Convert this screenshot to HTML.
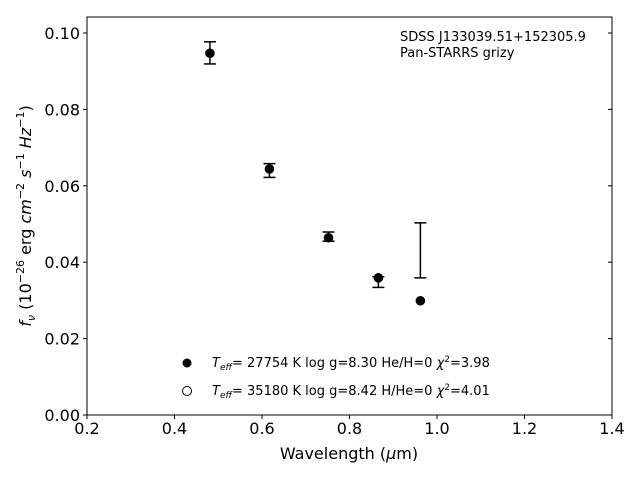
<!DOCTYPE html>
<html><head><meta charset="utf-8"><style>
body{margin:0;background:#fff;}
svg{display:block;font-family:"DejaVu Sans","Liberation Sans",sans-serif;}
</style></head><body>
<svg id="chart" width="640" height="480">
<rect x="87" y="17" width="525" height="398" fill="none" stroke="#000" stroke-width="1"/>
<g id="ticks"></g><g id="marks"></g>
<text x="349" y="459" font-size="16" text-anchor="middle">Wavelength (<tspan font-style="italic">μ</tspan>m)</text>
<text transform="translate(31,216) rotate(-90)" font-size="16" text-anchor="middle"><tspan font-style="italic">f</tspan><tspan font-size="11" dy="4" font-style="italic">ν</tspan><tspan dy="-4"> (10</tspan><tspan font-size="11" dy="-7">−26</tspan><tspan dy="7"> erg </tspan><tspan font-style="italic">cm</tspan><tspan font-size="11" dy="-7">−2</tspan><tspan dy="7"> </tspan><tspan font-style="italic">s</tspan><tspan font-size="11" dy="-7">−1</tspan><tspan dy="7"> </tspan><tspan font-style="italic">Hz</tspan><tspan font-size="11" dy="-7">−1</tspan><tspan dy="7">)</tspan></text>
<text x="400" y="41" font-size="13">SDSS J133039.51+152305.9</text>
<text x="400" y="57" font-size="13">Pan-STARRS grizy</text>
<g>
<circle cx="187" cy="363" r="4.5" fill="#000"/>
<text x="212" y="367" font-size="13"><tspan font-style="italic">T</tspan><tspan font-size="9" dy="3" font-style="italic">eff</tspan><tspan dy="-3">= 27754 K  log g=8.30  He/H=0  </tspan><tspan font-style="italic">χ</tspan><tspan font-size="9" dy="-5">2</tspan><tspan dy="5">=3.98</tspan></text>
<circle cx="187" cy="391" r="4.5" fill="#fff" stroke="#000" stroke-width="1"/>
<text x="212" y="395" font-size="13"><tspan font-style="italic">T</tspan><tspan font-size="9" dy="3" font-style="italic">eff</tspan><tspan dy="-3">= 35180 K  log g=8.42  H/He=0  </tspan><tspan font-style="italic">χ</tspan><tspan font-size="9" dy="-5">2</tspan><tspan dy="5">=4.01</tspan></text>
</g>
</svg>
<script>
const wavelengths=[0.481,0.617,0.752,0.866,0.962];
const obsFlux=[0.0948,0.0640,0.0467,0.0348,0.0431];
const obsErr=[0.0029,0.0018,0.0012,0.0014,0.0072];
const modelFlux=[0.0947,0.0644,0.0464,0.0359,0.0299];
const xTicks=[0.2,0.4,0.6,0.8,1.0,1.2,1.4];
const yTicks=[0.00,0.02,0.04,0.06,0.08,0.10];
const X=v=>87+(v-0.2)*437.5;
const Y=v=>415-v*3820;
const NS="http://www.w3.org/2000/svg";
function mk(tag,attrs,parent){const e=document.createElementNS(NS,tag);for(const k in attrs)e.setAttribute(k,attrs[k]);parent.appendChild(e);return e;}
const tg=document.getElementById('ticks'),mg=document.getElementById('marks');
xTicks.forEach(t=>{
 const l=mk('line',{x1:X(t),x2:X(t),y1:415,y2:419,stroke:'#000'},tg);
 
 
 const tx=mk('text',{x:X(t),y:434,'font-size':16,'text-anchor':'middle'},tg);
 tx.textContent=t.toFixed(1);
 
 
});
yTicks.forEach(t=>{
 const l=mk('line',{x1:83,x2:87,y1:Y(t),y2:Y(t),stroke:'#000'},tg);
 
 
 const r=mk('line',{x1:612,x2:608,y1:Y(t),y2:Y(t),stroke:'#000'},tg);
 
 
 const tx=mk('text',{x:80,y:Y(t)+6,'font-size':16,'text-anchor':'end'},tg);
 tx.textContent=t.toFixed(2);
 
 
});
wavelengths.forEach((w,i)=>{
 const x=X(w),y1=Y(obsFlux[i]-obsErr[i]),y2=Y(obsFlux[i]+obsErr[i]);
 const g=mk('g',{stroke:'#000','stroke-width':1.5},mg);
 
 
 mk('line',{x1:x,x2:x,y1:y1,y2:y2},g);
 mk('line',{x1:x-6,x2:x+6,y1:y1,y2:y1},g);
 mk('line',{x1:x-6,x2:x+6,y1:y2,y2:y2},g);
 const c=mk('circle',{cx:x,cy:Y(modelFlux[i]),r:4.8,fill:'#000'},mg);
 
 
});
</script>
</body></html>
